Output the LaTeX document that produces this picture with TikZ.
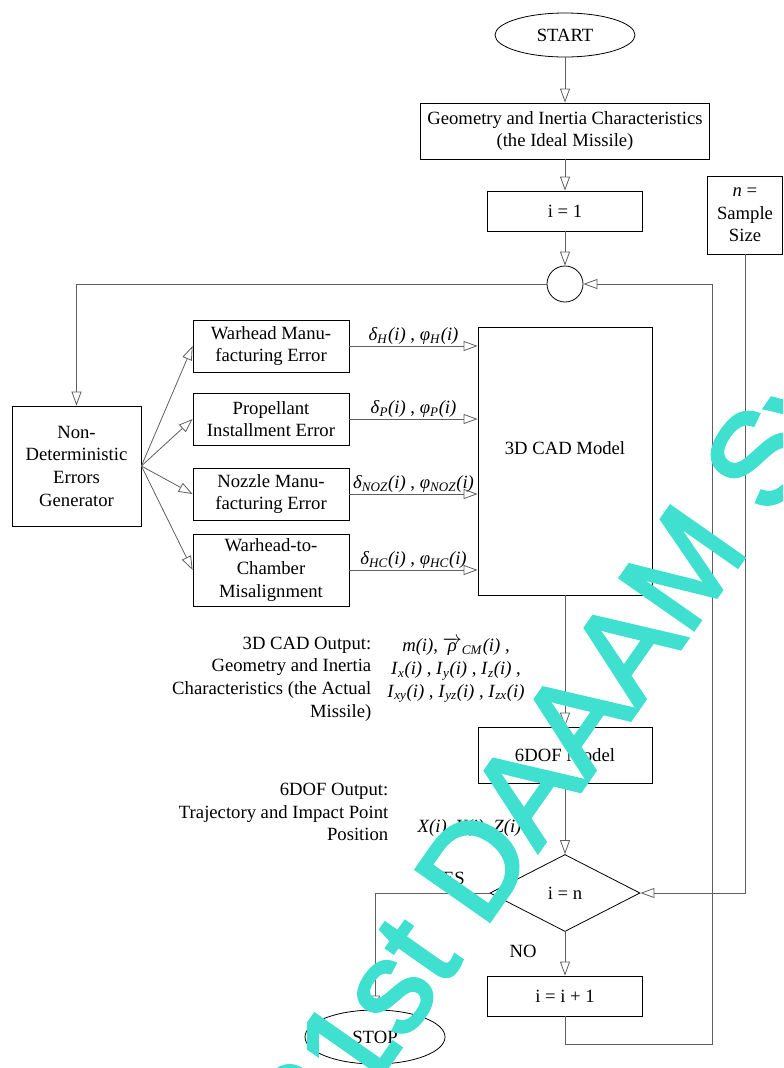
\documentclass[tikz,border=0pt]{standalone}
\usepackage{fontspec}
\setmainfont{Liberation Serif}
\newfontfamily\wmfont[FakeBold=2.5]{Liberation Sans}
\usetikzlibrary{positioning,arrows.meta,shapes.geometric,calc}
\definecolor{lncol}{RGB}{95,95,95}
\definecolor{wmcyan}{RGB}{64,224,208}
\newcommand{\errsym}[2]{\textit{#1}\textsubscript{\textit{#2}}\textit{(i)}}
\tikzset{
  blk/.style  = {draw, align=center, inner sep=2pt},
  term/.style = {draw, ellipse, inner sep=0pt, minimum width=105pt},
  dec/.style  = {draw, diamond, aspect=2, inner sep=0pt,
                 minimum width=112.5pt, minimum height=57.75pt},
  ar/.style   = {-{Triangle[open, length=10.5pt, width=7.5pt]}, draw=lncol},
  lbl/.style  = {inner sep=1pt},
  wm/.style   = {text=wmcyan, inner sep=0pt, rotate=55, anchor=base west,
                 font=\wmfont\fontsize{98}{98}\selectfont},
}
\begin{document}
\begin{tikzpicture}[x=0.75pt, y=-0.75pt, line width=0.6pt,
  font=\fontsize{14}{17}\selectfont]
\useasboundingbox (0,0) rectangle (783,1068);

% --- main column ---
\node[term, minimum height=33pt] (start) at (565,35) {START};
\node[blk, minimum width=216.75pt, minimum height=42pt] (geom) at (565,131)
     {Geometry and Inertia Characteristics\\(the Ideal Missile)};
\node[blk, minimum width=116.25pt, minimum height=30pt] (ione) at (565,211) {i = 1};
\node[draw, circle, minimum size=27pt, inner sep=0pt] (junc) at (565,284) {};
\node[blk, minimum width=56.25pt, minimum height=58.5pt] (nsize) at (745,215)
     {\textit{n} =\\Sample\\Size};

% --- error sources ---
\node[blk, minimum width=96.75pt, minimum height=90pt] (nde) at (76.5,466)
     {Non-\\Deterministic\\Errors\\Generator};
\node[blk, minimum width=117pt, minimum height=39pt] (ewh) at (271,346)
     {Warhead Manu-\\facturing Error};
\node[blk, minimum width=117pt, minimum height=39pt] (epr) at (271,419)
     {Propellant\\Installment Error};
\node[blk, minimum width=117pt, minimum height=39pt] (enz) at (271,494)
     {Nozzle Manu-\\facturing Error};
\node[blk, minimum width=117pt, minimum height=54pt] (ehc) at (271,570)
     {Warhead-to-\\Chamber\\Misalignment};

% --- models ---
\node[blk, minimum width=130.5pt, minimum height=201pt, text depth=19pt] (cad)
     at (565,461) {3D CAD Model};
\node[blk, minimum width=130.5pt, minimum height=42pt] (sixdof) at (565,755) {6DOF Model};
\node[dec] (test) at (565,893) {i = n};
\node[blk, minimum width=116.25pt, minimum height=30pt] (inext) at (565,996) {i = i + 1};
\node[term, minimum height=40.5pt] (stop) at (375,1037) {STOP};
\coordinate (lpb) at (712,1044);

% --- outputs ---
\node[lbl, anchor=east, align=right] (cadout) at (373,679)
     {3D CAD Output:\\Geometry and Inertia\\Characteristics (the Actual\\Missile)};
\node[lbl, align=center] (cadvals) at (456,670)
     {\textit{m(i)}, $\overrightarrow{\mbox{\textit{ρ}}}$\textsubscript{\textit{CM}}\textit{(i)} ,\\
      \errsym{I}{x} , \errsym{I}{y} , \errsym{I}{z} ,\\
      \errsym{I}{xy} , \errsym{I}{yz} , \errsym{I}{zx}};
\node[lbl, anchor=east, align=right] (dofout) at (390,812)
     {6DOF Output:\\Trajectory and Impact Point\\Position};
\node[lbl, anchor=west] (dofvals) at (416,828) {\textit{X(i), Y(i), Z(i)}};
\node[lbl] (yes) at (447,878) {YES};
\node[lbl] (no) at (523,951) {NO};

% --- arrows ---
\draw[ar] (start) -- (geom);
\draw[ar] (geom) -- (ione);
\draw[ar] (ione) -- (junc);
\draw[ar] (junc.west) -| (nde.north);
\foreach \e in {ewh,epr,enz,ehc}
  \draw[ar] (nde.east) -- (\e.west);
\draw[ar] (ewh.east) -- node[lbl, above] {\errsym{δ}{H} , \errsym{φ}{H}} (ewh.east -| cad.west);
\draw[ar] (epr.east) -- node[lbl, above] {\errsym{δ}{P} , \errsym{φ}{P}} (epr.east -| cad.west);
\draw[ar] (enz.east) -- node[lbl, above] {\errsym{δ}{NOZ} , \errsym{φ}{NOZ}} (enz.east -| cad.west);
\draw[ar] (ehc.east) -- node[lbl, above] {\errsym{δ}{HC} , \errsym{φ}{HC}} (ehc.east -| cad.west);
\draw[ar] (cad) -- (sixdof);
\draw[ar] (sixdof) -- (test);
\draw[ar] (test) -- (inext);
\draw[ar] (test.west) -| (stop.north);
\draw[ar] (nsize.south) |- (test.east);
\draw[ar] (inext.south) |- (lpb) |- (junc.east);

% watermark
\begin{scope}
\clip (0,0) rectangle (783,1068);
\node[wm] (wmark) at (321,1162) {31st DAAAM Symposium};
\end{scope}
\end{tikzpicture}
\end{document}
